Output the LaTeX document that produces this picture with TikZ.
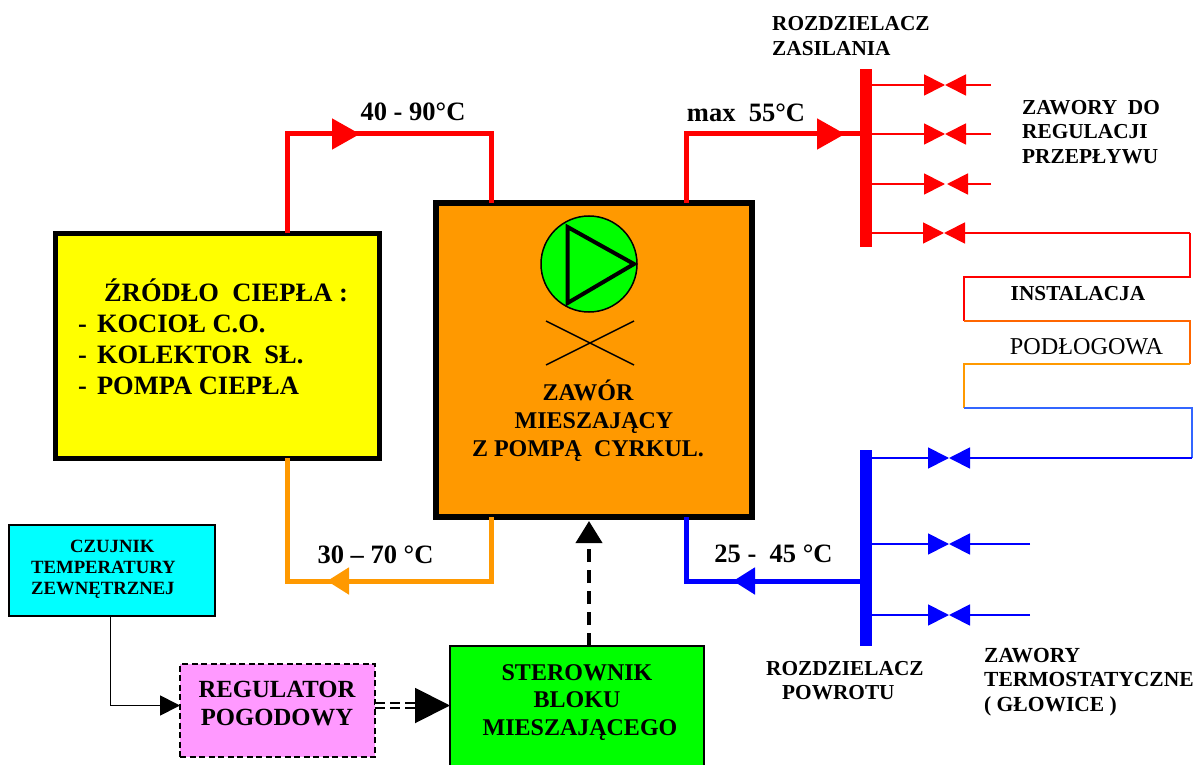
\documentclass[tikz,border=0pt]{standalone}
\usepackage{fontspec}
\setmainfont{Liberation Serif}
\usetikzlibrary{arrows.meta, positioning, calc}
\definecolor{srcyellow}{RGB}{255,255,0}
\definecolor{mixorange}{RGB}{255,153,0}
\definecolor{pumpgreen}{RGB}{0,255,0}
\definecolor{senscyan}{RGB}{0,255,255}
\definecolor{regpink}{RGB}{255,153,255}
\definecolor{pipered}{RGB}{255,0,0}
\definecolor{pipeblue}{RGB}{0,0,255}
\definecolor{loopA}{RGB}{255,102,0}
\definecolor{loopB}{RGB}{51,102,255}
\tikzset{
  bxK/.style 2 args={draw=black, fill=#1, line width=#2, outer sep=0pt, inner sep=0pt},
  barR/.style={fill=pipered, outer sep=0pt, inner sep=0pt, minimum width=12pt, minimum height=178pt},
  barB/.style={fill=pipeblue, outer sep=0pt, inner sep=0pt, minimum width=12pt, minimum height=196pt},
  pipeR/.style={draw=pipered, line width=5pt},
  pipeO/.style={draw=mixorange, line width=5pt},
  pipeB/.style={draw=pipeblue, line width=5pt},
  thinR/.style={draw=pipered, line width=1.8pt},
  thinB/.style={draw=pipeblue, line width=1.8pt},
  tipL/.style={-{Triangle[length=28pt,width=30pt]}},
  tipS/.style={-{Triangle[length=22pt,width=26pt]}},
  tipV/.style={-{Triangle[length=21pt,width=21pt]}},
  sig/.style={draw=black, line width=1.8pt},
  sigdash/.style={draw=black, line width=4pt, dash pattern=on 13pt off 8pt},
  sigdbl/.style={draw=black, line width=2pt, double=white, double distance=3.7pt, dash pattern=on 10pt off 5pt},
  lblH/.style={font=\fontsize{26.5}{31}\selectfont\bfseries, align=left, inner sep=0pt},
  lblM/.style={font=\fontsize{24}{28}\selectfont\bfseries, align=center, inner sep=0pt},
  lblS/.style={font=\fontsize{21.3}{24.3}\selectfont\bfseries, align=left, inner sep=0pt},
}
\begin{document}
\begin{tikzpicture}[x=1pt, y=-1pt, >=Stealth]
    \useasboundingbox (0,0) rectangle (1195,765);

    % boxes
    \node[bxK={srcyellow}{5pt}, minimum width=324pt, minimum height=225pt] (heat) at (217,345.5) {};
    \node[bxK={mixorange}{5.5pt}, minimum width=316pt, minimum height=314pt] (mix) at (594,360) {};
    \node[bxK={senscyan}{1.8pt}, minimum width=206pt, minimum height=91pt] (sens) at (112,570.5) {};
    \node[draw=black, fill=regpink, line width=1.8pt, dash pattern=on 6pt off 3.5pt, outer sep=0pt,
          minimum width=195pt, minimum height=93pt] (reg) at (277.5,710.5) {};
    \node[bxK={pumpgreen}{2pt}, minimum width=254pt, minimum height=121pt] (ster) at (577,706.5) {};
    \node[barR] (supbar) at (866,158) {};
    \node[barB] (retbar) at (866,548) {};

    % pump and valve symbol
    \node[bxK={pumpgreen}{1.5pt}, circle, minimum size=96pt] (pump) at (589,264) {};
    \draw[line width=4pt] (567.6,227) -- (634,264) -- (567.6,303) -- cycle;
    \draw[line width=1.5pt] (546,321) -- (634,365);
    \draw[line width=1.5pt] (546,365) -- (634,321);

    \coordinate (tipA) at (360,134);
    \coordinate (tipB) at (845,134);
    \coordinate (tipC) at (327,581);
    \coordinate (tipD) at (733,581);
    \coordinate (tipE) at (589,521);

    % main pipes
    \draw[pipeR, tipL] ([xshift=70pt]heat.north) |- (tipA);
    \draw[pipeR] ([xshift=-10pt]tipA) -| ([xshift=-103pt]mix.north);
    \draw[pipeR, tipL] ([xshift=92pt]mix.north) |- (tipB);
    \draw[pipeR] ([xshift=-10pt]tipB) -- (tipB -| supbar.west);
    \draw[pipeO, tipS] ([xshift=-103pt]mix.south) |- (tipC);
    \draw[pipeO] ([xshift=10pt]tipC) -| ([xshift=70pt]heat.south);
    \draw[pipeB, tipS] (tipD -| retbar.west) -- (tipD);
    \draw[pipeB] ([xshift=10pt]tipD) -| ([xshift=92pt]mix.south);

    % control lines
    \draw[sig, -{Triangle[length=20pt,width=20pt]}] ([xshift=-1.5pt]sens.south) |- ([yshift=5pt]reg.west);
    \draw[sigdbl, -{Triangle[length=35pt,width=35pt]}] ([yshift=5pt]reg.east) -- ([yshift=5pt]reg.east -| ster.west);
    \draw[sigdash, tipS] ([xshift=12pt]ster.north) -- (tipE);

    % supply valves
    \coordinate (v1a) at (945,85);
    \coordinate (v1b) at (945,85);
    \coordinate (v1e) at (991,85);
    \coordinate (v2a) at (945,134);
    \coordinate (v2b) at (945,134);
    \coordinate (v2e) at (991,134);
    \coordinate (v3a) at (945,184);
    \coordinate (v3b) at (947,184);
    \coordinate (v3e) at (991,184);
    \coordinate (v4a) at (944,233);
    \coordinate (v4b) at (944,233);
    \draw[thinR, tipV] (v1a -| supbar.east) -- (v1a);
    \draw[thinR, tipV] (v1e) -- (v1b);
    \draw[thinR, tipV] (v2a -| supbar.east) -- (v2a);
    \draw[thinR, tipV] (v2e) -- (v2b);
    \draw[thinR, tipV] (v3a -| supbar.east) -- (v3a);
    \draw[thinR, tipV] (v3e) -- (v3b);
    \draw[thinR, tipV] (v4a -| supbar.east) -- (v4a);

    % floor loop
    \coordinate (s1) at (1190,233);
    \coordinate (s2) at (1190,277);
    \coordinate (s3) at (964,277);
    \coordinate (s4) at (964,321);
    \coordinate (s5) at (1190,321);
    \coordinate (s6) at (1190,364);
    \coordinate (s7) at (964,364);
    \coordinate (s8) at (964,408);
    \coordinate (s9) at (1192,408);
    \coordinate (s10) at (1192,458);
    \draw[thinR, tipV] (s1) -- (v4b);
    \draw[thinR] (s1) -- (s2) -- (s3) -- (s4);
    \draw[draw=loopA, line width=1.8pt] (s4) -- (s5) -- (s6);
    \draw[draw=mixorange, line width=1.8pt] (s6) -- (s7) -- (s8);
    \draw[draw=loopB, line width=1.8pt] (s8) -- (s9) -- (s10);

    % return valves
    \coordinate (v5a) at (949,458);
    \coordinate (v5b) at (949,458);
    \coordinate (v6a) at (949,544);
    \coordinate (v6b) at (949,544);
    \coordinate (v6e) at (1030,544);
    \coordinate (v7a) at (949,615);
    \coordinate (v7b) at (949,615);
    \coordinate (v7e) at (1030,615);
    \draw[thinB, tipV] (s10) -- (v5b);
    \draw[thinB, tipV] (v5a -| retbar.east) -- (v5a);
    \draw[thinB, tipV] (v6a -| retbar.east) -- (v6a);
    \draw[thinB, tipV] (v6e) -- (v6b);
    \draw[thinB, tipV] (v7a -| retbar.east) -- (v7a);
    \draw[thinB, tipV] (v7e) -- (v7b);

    % texts
    \node[lblH, anchor=west] (heattxt) at (78,337) {\hspace*{26pt}ŹRÓDŁO~~CIEPŁA :\\-\hspace{10pt}KOCIOŁ C.O.\\-\hspace{10pt}KOLEKTOR~~SŁ.\\-\hspace{10pt}POMPA CIEPŁA};
    \node[lblM] (mixtxt) at (588,421) {ZAWÓR\\\hspace*{12pt}MIESZAJĄCY\\Z POMPĄ~~CYRKUL.};
    \node[font=\fontsize{18.7}{21}\selectfont\bfseries, align=left, inner sep=0pt, anchor=west] (senstxt) at (31,569) {\hspace*{39pt}CZUJNIK\\TEMPERATURY\\ZEWNĘTRZNEJ};
    \node[lblM, font=\fontsize{24.7}{28}\selectfont\bfseries] (regtxt) at (277,704) {REGULATOR\\POGODOWY};
    \node[lblM, font=\fontsize{24}{27.5}\selectfont\bfseries] (stertxt) at (577,702.5) {STEROWNIK\\BLOKU\\\hspace*{6pt}MIESZAJĄCEGO};
    \node[lblH] (t1) at (413,112) {40 - 90°C};
    \node[lblH] (t2) at (746,113) {max~~55°C};
    \node[lblH] (t3) at (375.5,555) {30 – 70 °C};
    \node[lblH] (t4) at (773.5,554) {25 -~~45 °C};
    \node[lblS, anchor=west] (zastxt) at (772,36) {ROZDZIELACZ\\ZASILANIA};
    \node[lblS, anchor=west] (regultxt) at (1022,132) {ZAWORY~~DO\\REGULACJI\\PRZEPŁYWU};
    \node[lblS] (insttxt) at (1078,294) {INSTALACJA};
    \node[font=\fontsize{24.2}{28}\selectfont, inner sep=0pt] (podtxt) at (1086.5,347) {PODŁOGOWA};
    \node[lblS, anchor=west] (powtxt) at (766,680.5) {ROZDZIELACZ\\\hspace*{16pt}POWROTU};
    \node[lblS, font=\fontsize{21.5}{24.3}\selectfont\bfseries, anchor=west] (termtxt) at (984,682) {ZAWORY\\TERMOSTATYCZNE\\( GŁOWICE )};
  \end{tikzpicture}
\end{document}
